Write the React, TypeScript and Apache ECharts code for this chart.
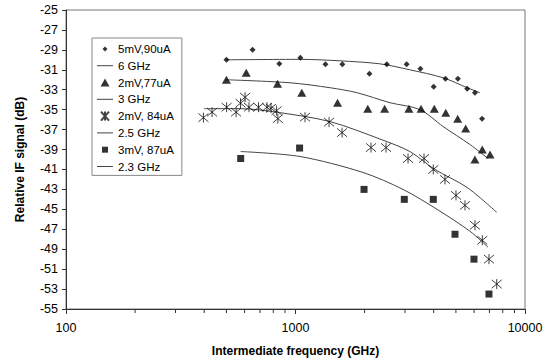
import React, { useEffect, useRef } from "react";
import * as echarts from "echarts";

// Measured points (frequency GHz, relative IF signal dB)
const s1Name = "5mV,90uA";
const s1x = [500, 650, 850, 1050, 1350, 1600, 2100, 2500, 3050, 3500, 4000, 4500, 5100, 5600, 6050, 6500];
const s1y = [-30.0, -29.0, -30.4, -29.8, -30.45, -30.45, -31.4, -30.45, -30.45, -30.9, -32.7, -31.9, -31.9, -32.9, -33.3, -35.9];

const l1Name = "6 GHz";
const l1x = [500, 1050, 1560, 2330, 3150, 4400, 5600, 6370];
const l1y = [-30.0, -29.95, -30.1, -30.4, -31.0, -31.8, -32.8, -33.3];

const s2Name = "2mV,77uA";
const s2x = [500, 610, 835, 1065, 1525, 2065, 2445, 3120, 3525, 4025, 4515, 5090, 5515, 6515, 6050, 7040];
const s2y = [-32.0, -31.3, -32.4, -33.3, -34.3, -34.9, -34.9, -34.9, -34.9, -34.9, -35.3, -35.9, -36.9, -39.0, -40.0, -39.5];

const l2Name = "3 GHz";
const l2x = [500, 945, 1415, 1855, 2580, 3490, 4400, 5760, 6900];
const l2y = [-32.0, -32.3, -32.8, -33.3, -34.3, -35.0, -36.7, -38.5, -39.9];

const s3Name = "2mV, 84uA";
const s3x = [397, 433, 501, 551, 576, 603, 627, 690, 751, 782, 827, 838, 1100, 1400, 1595, 2133, 2480, 3093, 3631, 3985, 4480, 5004, 5477, 6053, 6516, 6966, 7529];
const s3y = [-35.8, -35.25, -34.75, -35.25, -34.35, -33.75, -34.75, -34.75, -34.75, -34.85, -35.1, -35.9, -35.75, -36.25, -37.3, -38.8, -38.8, -39.9, -39.9, -41.0, -42.0, -43.6, -44.6, -46.6, -48.1, -50.0, -52.5];

const l3Name = "2.5 GHz";
const l3x = [400, 575, 855, 1415, 2335, 3150, 4050, 5590, 7530];
const l3y = [-34.9, -34.9, -35.3, -36.2, -37.95, -39.2, -41.0, -42.8, -45.3];

const s4Name = "3mV, 87uA";
const s4x = [577, 1042, 1989, 2979, 3985, 4955, 5994, 6966];
const s4y = [-39.9, -38.85, -43.0, -44.0, -44.0, -47.5, -50.0, -53.5];

const l4Name = "2.3 GHz";
const l4x = [577, 1046, 1968, 2940, 4137, 5758, 6899];
const l4y = [-39.2, -39.7, -41.3, -43.0, -45.0, -47.2, -48.8];

const minorTicksX = [200, 300, 400, 500, 600, 700, 800, 900, 2000, 3000, 4000, 5000, 6000, 7000, 8000, 9000];

const Y_MIN = -55;
const Y_MAX = -25;

const zip = (xs: number[], ys: number[]) => xs.map((x, i) => [x, ys[i]]);

const FONT = "'Liberation Sans', Arial, sans-serif";
const STAR = "path://M0,0L10,10M10,0L0,10M5,-1L5,11";
// legend icons, drawn inside a 16x9 box (invisible moveTo points fix the box)
const ICON_DIAMOND = "path://M0,0M16,9M8,2L10.5,4.5L8,7L5.5,4.5Z";
const ICON_TRIANGLE = "path://M0,0M16,9M8,0.5L12.5,8.5L3.5,8.5Z";
const ICON_STAR = "path://M0,0M16,9M4,0L12,9M12,0L4,9M8,0L8,9";
const ICON_RECT = "path://M0,0M16,9M5,1.5H11V7.5H5Z";
const ICON_LINE = "path://M0,0M16,9M0,4H16V5H0Z";

export default function App() {
  const ref = useRef<HTMLDivElement>(null);
  useEffect(() => {
    if (!ref.current) return;
    const chart = echarts.init(ref.current, null, { renderer: "svg" });
    const lineStyle = { color: "#444", width: 1 };
    const lineSeries = (name: string, xs: number[], ys: number[]) => ({
      name,
      type: "line",
      data: zip(xs, ys),
      smooth: 0.3,
      symbol: "none",
      showSymbol: false,
      lineStyle,
      itemStyle: { color: "#444" },
      z: 2,
    });
    chart.setOption({
      animation: false,
      backgroundColor: "#fff",
      textStyle: { fontFamily: FONT },
      grid: { left: 66, right: 21, top: 10, bottom: 52, show: true, borderColor: "#777", borderWidth: 1 },
      legend: {
        orient: "vertical",
        left: 92,
        top: 38,
        padding: [4, 8, 2, 4],
        itemGap: 3,
        itemWidth: 16,
        itemHeight: 9,
        borderColor: "#888",
        borderWidth: 1,
        backgroundColor: "#fff",
        textStyle: { fontFamily: FONT, fontSize: 11.5, color: "#000", lineHeight: 13.8 },
        data: [
          { name: s1Name, icon: ICON_DIAMOND },
          { name: l1Name, icon: ICON_LINE },
          { name: s2Name, icon: ICON_TRIANGLE },
          { name: l2Name, icon: ICON_LINE },
          { name: s3Name, icon: ICON_STAR },
          { name: l3Name, icon: ICON_LINE },
          { name: s4Name, icon: ICON_RECT },
          { name: l4Name, icon: ICON_LINE },
        ],
      },
      xAxis: {
        type: "log",
        logBase: 10,
        min: 100,
        max: 10000,
        name: "Intermediate frequency (GHz)",
        nameLocation: "middle",
        nameGap: 36,
        nameTextStyle: { fontFamily: FONT, fontSize: 12, fontWeight: "bold", color: "#000" },
        axisLine: { lineStyle: { color: "#333" } },
        axisTick: { show: true, length: 5, lineStyle: { color: "#333" } },
        axisLabel: { fontFamily: FONT, fontSize: 12.5, color: "#000", margin: 12, formatter: (v: number) => String(Math.round(v)) },
        splitLine: { show: false },
        minorTick: { show: false },
      },
      yAxis: {
        type: "value",
        min: Y_MIN,
        max: Y_MAX,
        interval: 2,
        name: "Relative IF signal (dB)",
        nameLocation: "middle",
        nameGap: 40,
        nameTextStyle: { fontFamily: FONT, fontSize: 12, fontWeight: "bold", color: "#000" },
        axisLine: { show: true, lineStyle: { color: "#333" } },
        axisTick: { show: true, length: 4, lineStyle: { color: "#333" } },
        axisLabel: { fontFamily: FONT, fontSize: 12.5, color: "#000", margin: 8 },
        splitLine: { show: false },
      },
      series: [
        {
          name: s1Name,
          type: "scatter",
          data: zip(s1x, s1y),
          symbol: "diamond",
          symbolSize: 6,
          itemStyle: { color: "#000" },
          z: 3,
        },
        lineSeries(l1Name, l1x, l1y),
        {
          name: s2Name,
          type: "scatter",
          data: zip(s2x, s2y),
          symbol: "triangle",
          symbolSize: [9, 8],
          itemStyle: { color: "#000" },
          z: 3,
        },
        lineSeries(l2Name, l2x, l2y),
        {
          name: s3Name,
          type: "scatter",
          data: zip(s3x, s3y),
          symbol: STAR,
          symbolSize: 10,
          itemStyle: { color: "#000", borderColor: "#111", borderWidth: 1 },
          z: 3,
        },
        lineSeries(l3Name, l3x, l3y),
        {
          name: s4Name,
          type: "scatter",
          data: zip(s4x, s4y),
          symbol: "rect",
          symbolSize: 7,
          itemStyle: { color: "#000" },
          z: 3,
        },
        lineSeries(l4Name, l4x, l4y),
        {
          type: "custom",
          name: "minorTicks",
          silent: true,
          data: minorTicksX.map((v) => [v]),
          encode: { x: 0 },
          renderItem: (_params: any, api: any) => {
            const p = api.coord([api.value(0), Y_MIN]);
            return {
              type: "line",
              shape: { x1: p[0], y1: p[1], x2: p[0], y2: p[1] + 4 },
              style: { stroke: "#333", lineWidth: 1 },
            };
          },
          z: 1,
        },
      ],
    });
    return () => chart.dispose();
  }, []);
  return <div ref={ref} style={{ width: 546, height: 362, position: "absolute", left: 0, top: 0 }} />;
}
